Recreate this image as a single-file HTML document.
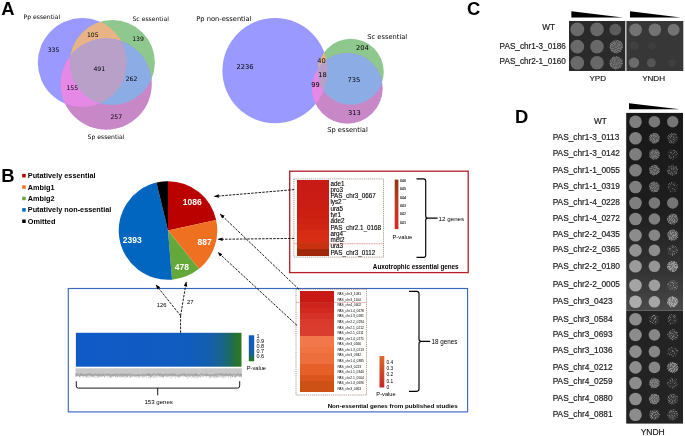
<!DOCTYPE html><html><head><meta charset="utf-8"><title>Figure</title><style>
html,body{margin:0;padding:0;background:#fff;}body{width:685px;height:436px;overflow:hidden;}svg{display:block;will-change:transform}
text{font-family:"Liberation Sans",Arial,sans-serif;fill:#000}
.dv{font-family:"DejaVu Sans","Liberation Sans",sans-serif}
.b{font-weight:bold}
.lb{fill:#1a1a1a;stroke:#1a1a1a;stroke-width:0.18px}
.pl{font-size:18.4px;font-weight:bold}
.da{stroke:#000;stroke-width:0.9;stroke-dasharray:2.5 1.2;fill:none}
</style></head><body>
<svg width="685" height="436" viewBox="0 0 685 436">
<defs>
<marker id="ah" markerWidth="7" markerHeight="6" refX="4.2" refY="3" orient="auto" markerUnits="userSpaceOnUse"><path d="M0,1.2 L5,3 L0,4.8 Z" fill="#000"/></marker>
<linearGradient id="gblue" x1="0" x2="1" y1="0" y2="0"><stop offset="0" stop-color="#105ac8"/><stop offset="0.69" stop-color="#105cbe"/><stop offset="0.81" stop-color="#145faa"/><stop offset="0.88" stop-color="#19648c"/><stop offset="0.93" stop-color="#1e6964"/><stop offset="0.97" stop-color="#287332"/><stop offset="1" stop-color="#2d781e"/></linearGradient>
<linearGradient id="gcb3" x1="0" x2="0" y1="0" y2="1"><stop offset="0" stop-color="#105ac8"/><stop offset="0.5" stop-color="#125eb4"/><stop offset="0.72" stop-color="#19648c"/><stop offset="0.88" stop-color="#246e46"/><stop offset="1" stop-color="#2d781e"/></linearGradient>
<linearGradient id="gcb1" x1="0" x2="0" y1="0" y2="1"><stop offset="0" stop-color="#8e3a12"/><stop offset="0.5" stop-color="#c03a20"/><stop offset="1" stop-color="#d82828"/></linearGradient>
<linearGradient id="gcb2" x1="0" x2="0" y1="0" y2="1"><stop offset="0" stop-color="#dc6a28"/><stop offset="0.5" stop-color="#d04a26"/><stop offset="1" stop-color="#c82424"/></linearGradient>
<filter id="spkD" x="-20%" y="-20%" width="140%" height="140%"><feTurbulence type="fractalNoise" baseFrequency="0.95" numOctaves="2" seed="3" result="n"/><feColorMatrix in="n" type="matrix" values="0 0 0 0 1  0 0 0 0 1  0 0 0 0 1  0 0 0 7 -3.08" result="m"/><feComposite in="SourceGraphic" in2="m" operator="in"/><feGaussianBlur stdDeviation="0.3"/></filter>
<filter id="spkM" x="-20%" y="-20%" width="140%" height="140%"><feTurbulence type="fractalNoise" baseFrequency="0.95" numOctaves="2" seed="5" result="n"/><feColorMatrix in="n" type="matrix" values="0 0 0 0 1  0 0 0 0 1  0 0 0 0 1  0 0 0 7 -3.5" result="m"/><feComposite in="SourceGraphic" in2="m" operator="in"/><feGaussianBlur stdDeviation="0.3"/></filter>
<filter id="spkS" x="-20%" y="-20%" width="140%" height="140%"><feTurbulence type="fractalNoise" baseFrequency="0.95" numOctaves="2" seed="8" result="n"/><feColorMatrix in="n" type="matrix" values="0 0 0 0 1  0 0 0 0 1  0 0 0 0 1  0 0 0 7 -3.885" result="m"/><feComposite in="SourceGraphic" in2="m" operator="in"/><feGaussianBlur stdDeviation="0.3"/></filter>
<filter id="bl"><feGaussianBlur stdDeviation="0.45"/></filter>
</defs>
<text class="pl" x="1.2" y="14.5">A</text>
<defs>
<clipPath id="v42445a"><circle cx="82.3" cy="62.6" r="44.5"/></clipPath>
<clipPath id="v42445b"><circle cx="112.4" cy="62.5" r="42.5"/></clipPath>
<clipPath id="v42445c"><circle cx="106.2" cy="84.1" r="45.6"/></clipPath>
</defs>
<circle cx="82.3" cy="62.6" r="44.5" fill="#9999ff"/>
<circle cx="112.4" cy="62.5" r="42.5" fill="#8fc88f"/>
<circle cx="106.2" cy="84.1" r="45.6" fill="#c888c8"/>
<g clip-path="url(#v42445a)"><circle cx="112.4" cy="62.5" r="42.5" fill="#e8b486"/></g>
<g clip-path="url(#v42445a)"><circle cx="106.2" cy="84.1" r="45.6" fill="#e688e6"/></g>
<g clip-path="url(#v42445b)"><circle cx="106.2" cy="84.1" r="45.6" fill="#8cace6"/></g>
<g clip-path="url(#v42445a)"><g clip-path="url(#v42445b)"><circle cx="106.2" cy="84.1" r="45.6" fill="#b8a0c8"/></g></g>
<text class="dv" font-size="6.1" x="23.5" y="18.7" text-anchor="start">Pp essential</text>
<text class="dv" font-size="6.1" x="132.5" y="20.7" text-anchor="start">Sc essential</text>
<text class="dv" font-size="6.1" x="106" y="138.8" text-anchor="middle">Sp essential</text>
<text class="dv" font-size="6.1" x="53.5" y="52" text-anchor="middle">335</text>
<text class="dv" font-size="6.1" x="92.8" y="37" text-anchor="middle">105</text>
<text class="dv" font-size="6.1" x="138" y="41.3" text-anchor="middle">139</text>
<text class="dv" font-size="6.1" x="99.3" y="71" text-anchor="middle">491</text>
<text class="dv" font-size="6.1" x="131.5" y="80.7" text-anchor="middle">262</text>
<text class="dv" font-size="6.1" x="72.3" y="89.5" text-anchor="middle">155</text>
<text class="dv" font-size="6.1" x="116.3" y="118.7" text-anchor="middle">257</text>
<defs>
<clipPath id="v19772a"><circle cx="275" cy="70.6" r="52.6"/></clipPath>
<clipPath id="v19772b"><circle cx="350.8" cy="71.8" r="33"/></clipPath>
<clipPath id="v19772c"><circle cx="347.3" cy="88.3" r="35.4"/></clipPath>
</defs>
<circle cx="275" cy="70.6" r="52.6" fill="#9999ff"/>
<circle cx="350.8" cy="71.8" r="33" fill="#8fc88f"/>
<circle cx="347.3" cy="88.3" r="35.4" fill="#c888c8"/>
<g clip-path="url(#v19772a)"><circle cx="350.8" cy="71.8" r="33" fill="#e8b486"/></g>
<g clip-path="url(#v19772a)"><circle cx="347.3" cy="88.3" r="35.4" fill="#e688e6"/></g>
<g clip-path="url(#v19772b)"><circle cx="347.3" cy="88.3" r="35.4" fill="#8cace6"/></g>
<g clip-path="url(#v19772a)"><g clip-path="url(#v19772b)"><circle cx="347.3" cy="88.3" r="35.4" fill="#b8a0c8"/></g></g>
<text class="dv" font-size="6.7" x="196.3" y="20.7" text-anchor="start">Pp non-essential</text>
<text class="dv" font-size="6.7" x="367.3" y="39" text-anchor="start">Sc essential</text>
<text class="dv" font-size="6.7" x="347.5" y="131.6" text-anchor="middle">Sp essential</text>
<text class="dv" font-size="6.7" x="245" y="69.2" text-anchor="middle">2236</text>
<text class="dv" font-size="6.7" x="321.5" y="62.5" text-anchor="middle">40</text>
<text class="dv" font-size="6.7" x="362.5" y="49.5" text-anchor="middle">204</text>
<text class="dv" font-size="6.7" x="322.5" y="76.7" text-anchor="middle">18</text>
<text class="dv" font-size="6.7" x="354" y="81.7" text-anchor="middle">735</text>
<text class="dv" font-size="6.7" x="315.5" y="86.7" text-anchor="middle">99</text>
<text class="dv" font-size="6.7" x="354.5" y="115" text-anchor="middle">313</text>
<text class="pl" x="1.3" y="181.7">B</text>
<rect x="22.2" y="173.9" width="3.5" height="3.5" fill="#bb0000"/>
<text class="b" font-size="7.3" x="27.8" y="178.1">Putatively essential</text>
<rect x="22.2" y="185.3" width="3.5" height="3.5" fill="#f07022"/>
<text class="b" font-size="7.3" x="27.8" y="189.5">Ambig1</text>
<rect x="22.2" y="196.7" width="3.5" height="3.5" fill="#64a83a"/>
<text class="b" font-size="7.3" x="27.8" y="200.9">Ambig2</text>
<rect x="22.2" y="208.1" width="3.5" height="3.5" fill="#0066bf"/>
<text class="b" font-size="7.3" x="27.8" y="212.3">Putatively non-essential</text>
<rect x="22.2" y="219.5" width="3.5" height="3.5" fill="#000"/>
<text class="b" font-size="7.3" x="27.8" y="223.7">Omitted</text>
<path d="M168,230.5 L168.00,181.20 A49.3,49.3 0 0 1 216.16,219.97 Z" fill="#bb0000"/>
<path d="M168,230.5 L216.16,219.97 A49.3,49.3 0 0 1 198.96,268.87 Z" fill="#f07022"/>
<path d="M168,230.5 L198.96,268.87 A49.3,49.3 0 0 1 172.06,279.63 Z" fill="#64a83a"/>
<path d="M168,230.5 L172.06,279.63 A49.3,49.3 0 0 1 156.42,182.58 Z" fill="#0066bf"/>
<path d="M168,230.5 L156.42,182.58 A49.3,49.3 0 0 1 168.00,181.20 Z" fill="#000"/>
<text class="b" font-size="8.5" x="192.2" y="205" text-anchor="middle" style="fill:#fff">1086</text>
<text class="b" font-size="8.5" x="204.6" y="244.8" text-anchor="middle" style="fill:#fff">887</text>
<text class="b" font-size="8.5" x="181.8" y="270.2" text-anchor="middle" style="fill:#fff">478</text>
<text class="b" font-size="8.5" x="132.3" y="242.6" text-anchor="middle" style="fill:#fff">2393</text>
<rect x="289.7" y="171.2" width="178.5" height="101.4" fill="none" stroke="#b51f2a" stroke-width="1.3"/>
<rect x="68.3" y="288.5" width="399.3" height="123.4" fill="#fff" stroke="#3a68c0" stroke-width="1.15"/>
<rect x="296.8" y="180.10" width="31.7" height="6.87" fill="#c81a16" shape-rendering="crispEdges"/>
<text font-size="6.3" x="330.4" y="185.60" stroke="#000" stroke-width="0.12">ade1</text>
<rect x="296.8" y="186.38" width="31.7" height="6.87" fill="#c91b15" shape-rendering="crispEdges"/>
<text font-size="6.3" x="330.4" y="191.88" stroke="#000" stroke-width="0.12">pro3</text>
<rect x="296.8" y="192.65" width="31.7" height="6.87" fill="#ca1c14" shape-rendering="crispEdges"/>
<text font-size="6.3" x="330.4" y="198.15" stroke="#000" stroke-width="0.12">PAS_chr3_0667</text>
<rect x="296.8" y="198.92" width="31.7" height="6.87" fill="#ca1d13" shape-rendering="crispEdges"/>
<text font-size="6.3" x="330.4" y="204.42" stroke="#000" stroke-width="0.12">lys2</text>
<rect x="296.8" y="205.20" width="31.7" height="6.87" fill="#cb1e12" shape-rendering="crispEdges"/>
<text font-size="6.3" x="330.4" y="210.70" stroke="#000" stroke-width="0.12">ura5</text>
<rect x="296.8" y="211.47" width="31.7" height="6.87" fill="#cc1f12" shape-rendering="crispEdges"/>
<text font-size="6.3" x="330.4" y="216.97" stroke="#000" stroke-width="0.12">tyr1</text>
<rect x="296.8" y="217.75" width="31.7" height="6.87" fill="#cd2112" shape-rendering="crispEdges"/>
<text font-size="6.3" x="330.4" y="223.25" stroke="#000" stroke-width="0.12">ade2</text>
<rect x="296.8" y="224.02" width="31.7" height="6.87" fill="#d02512" shape-rendering="crispEdges"/>
<text font-size="6.3" x="330.4" y="229.52" stroke="#000" stroke-width="0.12">PAS_chr2.1_0168</text>
<rect x="296.8" y="230.30" width="31.7" height="6.87" fill="#d62c14" shape-rendering="crispEdges"/>
<text font-size="6.3" x="330.4" y="235.80" stroke="#000" stroke-width="0.12">arg4</text>
<rect x="296.8" y="236.57" width="31.7" height="6.87" fill="#d72e14" shape-rendering="crispEdges"/>
<text font-size="6.3" x="330.4" y="242.07" stroke="#000" stroke-width="0.12">met2</text>
<rect x="296.8" y="242.85" width="31.7" height="6.87" fill="#c8320f" shape-rendering="crispEdges"/>
<text font-size="6.3" x="330.4" y="248.35" stroke="#000" stroke-width="0.12">ura3</text>
<rect x="296.8" y="249.12" width="31.7" height="6.87" fill="#a0260a" shape-rendering="crispEdges"/>
<text font-size="6.3" x="330.4" y="254.62" stroke="#000" stroke-width="0.12">PAS_chr3_0112</text>
<rect x="293.9" y="178.9" width="89.6" height="78.2" fill="none" stroke="#6a4a3a" stroke-width="0.6" stroke-dasharray="1 0.9"/>
<line x1="294" x2="383.5" y1="243.7" y2="243.7" stroke="#c04030" stroke-width="0.5" stroke-dasharray="1.2 0.5"/>
<rect x="394.7" y="179.6" width="3.7" height="49.5" fill="url(#gcb1)"/>
<text font-size="3" x="400" y="181.90" stroke="#000" stroke-width="0.1">0.06</text>
<text font-size="3" x="400" y="190.26" stroke="#000" stroke-width="0.1">0.05</text>
<text font-size="3" x="400" y="198.62" stroke="#000" stroke-width="0.1">0.04</text>
<text font-size="3" x="400" y="206.98" stroke="#000" stroke-width="0.1">0.03</text>
<text font-size="3" x="400" y="215.34" stroke="#000" stroke-width="0.1">0.02</text>
<text font-size="3" x="400" y="223.70" stroke="#000" stroke-width="0.1">0.01</text>
<text font-size="5.8" x="402.3" y="239.1" text-anchor="middle">P-value</text>
<path d="M416.5,178.9 L423.5,178.9 Q425.7,178.9 425.7,181.1 L425.7,215.95 Q425.7,218.15 427.9,218.15 L437.6,218.15 M427.9,218.15 Q425.7,218.15 425.7,220.35 L425.7,255.2 Q425.7,257.4 423.5,257.4 L416.5,257.4" fill="none" stroke="#000" stroke-width="1.15"/>
<text font-size="6.25" x="438.5" y="220.6">12 genes</text>
<text class="b" font-size="6.3" x="458.6" y="269" text-anchor="end">Auxotrophic essential genes</text>
<rect x="300.2" y="291.10" width="34.1" height="6.19" fill="#c81914" shape-rendering="crispEdges"/>
<text font-size="3.3" x="337.4" y="295.00">PAS_chr3_1081</text>
<rect x="300.2" y="296.69" width="34.1" height="6.19" fill="#c81914" shape-rendering="crispEdges"/>
<text font-size="3.3" x="337.4" y="300.59">PAS_chr3_1104</text>
<rect x="300.2" y="302.28" width="34.1" height="6.19" fill="#cd231e" shape-rendering="crispEdges"/>
<text font-size="3.3" x="337.4" y="306.18">PAS_chr4_0402</text>
<rect x="300.2" y="307.87" width="34.1" height="6.19" fill="#d2281e" shape-rendering="crispEdges"/>
<text font-size="3.3" x="337.4" y="311.77">PAS_chr1.4_0678</text>
<rect x="300.2" y="313.46" width="34.1" height="6.19" fill="#d73228" shape-rendering="crispEdges"/>
<text font-size="3.3" x="337.4" y="317.36">PAS_chr1.3_0281</text>
<rect x="300.2" y="319.04" width="34.1" height="6.19" fill="#da3a2c" shape-rendering="crispEdges"/>
<text font-size="3.3" x="337.4" y="322.94">PAS_chr2.2_0294</text>
<rect x="300.2" y="324.63" width="34.1" height="6.19" fill="#da3c2d" shape-rendering="crispEdges"/>
<text font-size="3.3" x="337.4" y="328.53">PAS_chr2.1_0212</text>
<rect x="300.2" y="330.22" width="34.1" height="6.19" fill="#da3c2d" shape-rendering="crispEdges"/>
<text font-size="3.3" x="337.4" y="334.12">PAS_chr2.1_0211</text>
<rect x="300.2" y="335.81" width="34.1" height="6.19" fill="#f2784b" shape-rendering="crispEdges"/>
<text font-size="3.3" x="337.4" y="339.71">PAS_chr1.4_0271</text>
<rect x="300.2" y="341.40" width="34.1" height="6.19" fill="#f2784b" shape-rendering="crispEdges"/>
<text font-size="3.3" x="337.4" y="345.30">PAS_chr3_0566</text>
<rect x="300.2" y="346.99" width="34.1" height="6.19" fill="#f07341" shape-rendering="crispEdges"/>
<text font-size="3.3" x="337.4" y="350.89">PAS_chr1.3_0213</text>
<rect x="300.2" y="352.58" width="34.1" height="6.19" fill="#eb6e3c" shape-rendering="crispEdges"/>
<text font-size="3.3" x="337.4" y="356.48">PAS_chr3_0942</text>
<rect x="300.2" y="358.17" width="34.1" height="6.19" fill="#eb6e3c" shape-rendering="crispEdges"/>
<text font-size="3.3" x="337.4" y="362.07">PAS_chr1.4_0385</text>
<rect x="300.2" y="363.76" width="34.1" height="6.19" fill="#e65f28" shape-rendering="crispEdges"/>
<text font-size="3.3" x="337.4" y="367.66">PAS_chr3_0223</text>
<rect x="300.2" y="369.34" width="34.1" height="6.19" fill="#e65f28" shape-rendering="crispEdges"/>
<text font-size="3.3" x="337.4" y="373.24">PAS_chr1.1_0340</text>
<rect x="300.2" y="374.93" width="34.1" height="6.19" fill="#dc551e" shape-rendering="crispEdges"/>
<text font-size="3.3" x="337.4" y="378.83">PAS_chr2.1_0504</text>
<rect x="300.2" y="380.52" width="34.1" height="6.19" fill="#cd5014" shape-rendering="crispEdges"/>
<text font-size="3.3" x="337.4" y="384.42">PAS_chr1.4_0696</text>
<rect x="300.2" y="386.11" width="34.1" height="6.19" fill="#cd5014" shape-rendering="crispEdges"/>
<text font-size="3.3" x="337.4" y="390.01">PAS_chr3_0363</text>
<rect x="296" y="289.2" width="70.5" height="105.8" fill="none" stroke="#7a4a3a" stroke-width="0.6" stroke-dasharray="1 0.9"/>
<line x1="296" x2="366.5" y1="302.4" y2="302.4" stroke="#c04030" stroke-width="0.5" stroke-dasharray="1.2 0.5"/>
<rect x="379.5" y="356" width="4.8" height="31.5" fill="url(#gcb2)"/>
<text font-size="4.8" x="386.6" y="363.5">0.4</text>
<text font-size="4.8" x="386.6" y="370">0.3</text>
<text font-size="4.8" x="386.6" y="376.4">0.2</text>
<text font-size="4.8" x="386.6" y="382.7">0.1</text>
<text font-size="4.8" x="386.6" y="388.6">0</text>
<text font-size="5.7" x="386" y="395.9" text-anchor="middle">P-value</text>
<path d="M409,291.3 L416.8,291.3 Q419,291.3 419,293.5 L419,339.1 Q419,341.3 421.2,341.3 L430.2,341.3 M421.2,341.3 Q419,341.3 419,343.5 L419,389.1 Q419,391.3 416.8,391.3 L409,391.3" fill="none" stroke="#000" stroke-width="1.15"/>
<text font-size="6.3" x="431.4" y="343.5">18 genes</text>
<text class="b" font-size="6.2" x="457.6" y="408" text-anchor="end">Non-essential genes from published studies</text>
<rect x="75.9" y="332.8" width="165.6" height="33.9" fill="url(#gblue)"/>
<rect x="75.9" y="368.4" width="165.6" height="7.2" fill="#d4d4d4"/>
<path d="M75.90,368.4 v8.58 M76.82,368.4 v7.68 M77.74,368.4 v8.04 M78.66,368.4 v8.12 M79.58,368.4 v9.10 M80.50,368.4 v9.15 M81.42,368.4 v7.55 M82.34,368.4 v7.80 M83.26,368.4 v9.11 M84.18,368.4 v7.71 M85.10,368.4 v7.69 M86.02,368.4 v9.26 M86.94,368.4 v9.73 M87.86,368.4 v8.48 M88.78,368.4 v9.74 M89.70,368.4 v8.89 M90.62,368.4 v9.23 M91.54,368.4 v7.89 M92.46,368.4 v8.67 M93.38,368.4 v9.07 M94.30,368.4 v8.42 M95.22,368.4 v9.79 M96.14,368.4 v8.21 M97.06,368.4 v9.59 M97.98,368.4 v9.44 M98.90,368.4 v10.06 M99.82,368.4 v8.47 M100.74,368.4 v8.05 M101.66,368.4 v8.59 M102.58,368.4 v7.90 M103.50,368.4 v7.81 M104.42,368.4 v9.52 M105.34,368.4 v8.54 M106.26,368.4 v7.85 M107.18,368.4 v9.89 M108.10,368.4 v7.84 M109.02,368.4 v8.36 M109.94,368.4 v10.25 M110.86,368.4 v8.77 M111.78,368.4 v9.44 M112.70,368.4 v8.58 M113.62,368.4 v7.97 M114.54,368.4 v7.73 M115.46,368.4 v9.10 M116.38,368.4 v9.24 M117.30,368.4 v8.53 M118.22,368.4 v9.21 M119.14,368.4 v8.86 M120.06,368.4 v8.34 M120.98,368.4 v9.62 M121.90,368.4 v8.95 M122.82,368.4 v8.49 M123.74,368.4 v9.67 M124.66,368.4 v7.67 M125.58,368.4 v10.12 M126.50,368.4 v9.02 M127.42,368.4 v9.24 M128.34,368.4 v7.99 M129.26,368.4 v9.81 M130.18,368.4 v9.59 M131.10,368.4 v8.82 M132.02,368.4 v8.43 M132.94,368.4 v8.45 M133.86,368.4 v7.71 M134.78,368.4 v8.85 M135.70,368.4 v7.41 M136.62,368.4 v9.33 M137.54,368.4 v8.57 M138.46,368.4 v10.07 M139.38,368.4 v7.66 M140.30,368.4 v8.79 M141.22,368.4 v7.88 M142.14,368.4 v9.17 M143.06,368.4 v9.23 M143.98,368.4 v10.21 M144.90,368.4 v7.46 M145.82,368.4 v7.71 M146.74,368.4 v10.36 M147.66,368.4 v7.48 M148.58,368.4 v9.69 M149.50,368.4 v9.90 M150.42,368.4 v10.09 M151.34,368.4 v8.95 M152.26,368.4 v7.79 M153.18,368.4 v10.02 M154.10,368.4 v9.73 M155.02,368.4 v9.26 M155.94,368.4 v9.45 M156.86,368.4 v9.73 M157.78,368.4 v7.97 M158.70,368.4 v8.76 M159.62,368.4 v7.59 M160.54,368.4 v9.22 M161.46,368.4 v8.92 M162.38,368.4 v8.14 M163.30,368.4 v10.18 M164.22,368.4 v8.01 M165.14,368.4 v8.58 M166.06,368.4 v8.69 M166.98,368.4 v7.77 M167.90,368.4 v9.33 M168.82,368.4 v7.81 M169.74,368.4 v7.68 M170.66,368.4 v9.40 M171.58,368.4 v10.38 M172.50,368.4 v8.47 M173.42,368.4 v8.41 M174.34,368.4 v8.55 M175.26,368.4 v10.28 M176.18,368.4 v8.09 M177.10,368.4 v8.22 M178.02,368.4 v9.67 M178.94,368.4 v9.43 M179.86,368.4 v9.01 M180.78,368.4 v8.38 M181.70,368.4 v7.95 M182.62,368.4 v7.45 M183.54,368.4 v9.22 M184.46,368.4 v7.77 M185.38,368.4 v8.65 M186.30,368.4 v7.53 M187.22,368.4 v10.31 M188.14,368.4 v10.20 M189.06,368.4 v8.02 M189.98,368.4 v8.21 M190.90,368.4 v7.51 M191.82,368.4 v10.33 M192.74,368.4 v8.74 M193.66,368.4 v9.37 M194.58,368.4 v10.31 M195.50,368.4 v8.09 M196.42,368.4 v9.59 M197.34,368.4 v10.35 M198.26,368.4 v9.28 M199.18,368.4 v7.57 M200.10,368.4 v8.92 M201.02,368.4 v9.48 M201.94,368.4 v8.21 M202.86,368.4 v8.39 M203.78,368.4 v7.50 M204.70,368.4 v7.95 M205.62,368.4 v8.24 M206.54,368.4 v9.73 M207.46,368.4 v7.83 M208.38,368.4 v8.30 M209.30,368.4 v10.27 M210.22,368.4 v10.08 M211.14,368.4 v9.69 M212.06,368.4 v8.25 M212.98,368.4 v9.87 M213.90,368.4 v8.69 M214.82,368.4 v10.13 M215.74,368.4 v9.84 M216.66,368.4 v9.79 M217.58,368.4 v9.33 M218.50,368.4 v9.31 M219.42,368.4 v8.75 M220.34,368.4 v8.99 M221.26,368.4 v8.77 M222.18,368.4 v10.09 M223.10,368.4 v9.64 M224.02,368.4 v9.94 M224.94,368.4 v8.09 M225.86,368.4 v9.94 M226.78,368.4 v8.26 M227.70,368.4 v7.99 M228.62,368.4 v9.35 M229.54,368.4 v7.80 M230.46,368.4 v10.32 M231.38,368.4 v8.87 M232.30,368.4 v8.80 M233.22,368.4 v9.05 M234.14,368.4 v8.82 M235.06,368.4 v8.92 M235.98,368.4 v8.56 M236.90,368.4 v7.62 M237.82,368.4 v8.19 M238.74,368.4 v9.30 M239.66,368.4 v8.50 M240.58,368.4 v8.58 M241.50,368.4 v9.44" stroke="#bdbdbd" stroke-width="0.5" fill="none"/>
<path d="M75.90,373.27 v2.75 M76.82,374.02 v2.87 M77.74,373.32 v2.19 M78.66,373.97 v1.68 M79.58,374.53 v2.48 M80.50,373.29 v2.42 M81.42,373.51 v2.38 M82.34,373.79 v2.36 M83.26,373.98 v2.55 M84.18,374.00 v1.86 M85.10,374.20 v2.39 M86.02,373.89 v2.34 M86.94,373.85 v2.89 M87.86,373.55 v1.85 M88.78,373.31 v2.02 M89.70,373.68 v2.23 M90.62,373.30 v2.32 M91.54,373.68 v2.91 M92.46,374.55 v1.71 M93.38,374.30 v2.75 M94.30,373.69 v2.30 M95.22,373.30 v1.73 M96.14,374.18 v1.69 M97.06,373.63 v2.41 M97.98,373.82 v2.60 M98.90,373.69 v2.92 M99.82,374.06 v2.29 M100.74,373.60 v2.63 M101.66,374.48 v2.30 M102.58,373.76 v1.99 M103.50,373.80 v2.37 M104.42,374.58 v2.56 M105.34,373.52 v1.72 M106.26,374.12 v1.62 M107.18,373.46 v1.99 M108.10,373.95 v2.45 M109.02,373.38 v2.80 M109.94,374.12 v2.64 M110.86,374.42 v2.93 M111.78,373.98 v2.16 M112.70,373.87 v2.16 M113.62,374.58 v2.22 M114.54,374.04 v1.74 M115.46,373.95 v2.93 M116.38,373.30 v1.89 M117.30,374.09 v2.94 M118.22,373.86 v1.76 M119.14,374.57 v2.27 M120.06,373.40 v2.65 M120.98,373.87 v2.57 M121.90,373.49 v2.93 M122.82,374.17 v2.88 M123.74,373.62 v2.50 M124.66,374.38 v2.33 M125.58,373.70 v1.91 M126.50,373.90 v2.49 M127.42,374.30 v2.66 M128.34,373.54 v2.16 M129.26,373.48 v2.29 M130.18,374.59 v2.71 M131.10,373.47 v2.45 M132.02,374.33 v2.61 M132.94,374.56 v1.71 M133.86,373.86 v2.07 M134.78,374.58 v2.45 M135.70,374.47 v2.08 M136.62,374.37 v1.77 M137.54,374.20 v1.88 M138.46,373.81 v2.49 M139.38,374.52 v2.61 M140.30,374.24 v1.72 M141.22,374.59 v1.64 M142.14,373.85 v2.52 M143.06,374.03 v2.26 M143.98,373.42 v2.37 M144.90,374.32 v2.62 M145.82,374.25 v1.79 M146.74,373.47 v2.82 M147.66,373.50 v2.30 M148.58,373.66 v2.36 M149.50,373.29 v2.64 M150.42,374.13 v2.74 M151.34,374.36 v2.83 M152.26,373.41 v2.31 M153.18,374.29 v2.45 M154.10,373.41 v1.80 M155.02,373.37 v1.69 M155.94,373.94 v2.28 M156.86,374.44 v1.68 M157.78,373.26 v1.74 M158.70,373.24 v2.85 M159.62,373.66 v2.96 M160.54,373.48 v1.99 M161.46,374.33 v2.31 M162.38,373.93 v2.83 M163.30,374.49 v2.85 M164.22,373.83 v2.18 M165.14,373.64 v2.54 M166.06,373.50 v2.02 M166.98,374.29 v2.92 M167.90,373.71 v1.95 M168.82,373.85 v2.65 M169.74,374.44 v1.83 M170.66,373.51 v2.59 M171.58,373.77 v2.19 M172.50,373.33 v2.11 M173.42,373.84 v2.58 M174.34,373.92 v2.01 M175.26,373.36 v2.89 M176.18,374.43 v1.72 M177.10,374.47 v1.85 M178.02,374.35 v2.79 M178.94,374.52 v2.17 M179.86,373.92 v2.29 M180.78,373.59 v2.72 M181.70,374.45 v1.98 M182.62,373.32 v1.96 M183.54,373.51 v1.97 M184.46,373.22 v2.99 M185.38,374.48 v2.47 M186.30,374.19 v2.91 M187.22,373.57 v1.85 M188.14,374.08 v2.34 M189.06,373.82 v2.54 M189.98,374.33 v2.99 M190.90,373.23 v2.31 M191.82,373.92 v1.94 M192.74,374.12 v2.51 M193.66,373.96 v2.84 M194.58,373.63 v1.90 M195.50,373.48 v2.83 M196.42,373.40 v2.99 M197.34,374.37 v1.62 M198.26,374.43 v2.20 M199.18,374.13 v2.13 M200.10,374.56 v2.44 M201.02,373.26 v1.86 M201.94,373.21 v2.11 M202.86,374.58 v2.05 M203.78,374.44 v1.91 M204.70,373.67 v1.72 M205.62,374.12 v1.95 M206.54,373.33 v2.74 M207.46,374.02 v2.15 M208.38,374.08 v1.72 M209.30,374.39 v1.82 M210.22,374.30 v2.44 M211.14,374.21 v2.29 M212.06,374.07 v1.80 M212.98,374.20 v2.32 M213.90,374.18 v2.31 M214.82,374.25 v2.40 M215.74,373.22 v2.56 M216.66,374.20 v2.94 M217.58,373.32 v1.66 M218.50,374.54 v2.13 M219.42,373.27 v1.63 M220.34,373.54 v1.97 M221.26,373.30 v2.91 M222.18,373.33 v2.34 M223.10,373.86 v2.73 M224.02,373.53 v2.66 M224.94,374.11 v2.24 M225.86,373.31 v2.87 M226.78,373.27 v2.49 M227.70,374.04 v2.06 M228.62,374.17 v2.47 M229.54,373.88 v2.28 M230.46,373.34 v1.90 M231.38,374.19 v2.00 M232.30,374.27 v2.99 M233.22,373.64 v1.72 M234.14,373.61 v1.71 M235.06,374.59 v2.99 M235.98,374.48 v2.90 M236.90,373.33 v2.65 M237.82,373.70 v2.44 M238.74,373.59 v1.76 M239.66,373.90 v2.83 M240.58,373.42 v2.93 M241.50,373.77 v2.62" stroke="#8c8c8c" stroke-width="0.6" fill="none"/>
<path d="M76.3,381.2 L76.3,386 Q76.3,388.1 78.4,388.1 L237.6,388.1 Q239.7,388.1 239.7,386 L239.7,381.2 M157.7,388.1 L157.7,395.3" fill="none" stroke="#000" stroke-width="0.9"/>
<text font-size="6.1" x="158.7" y="404.2" text-anchor="middle">153 genes</text>
<rect x="248.8" y="335.3" width="5.4" height="26" fill="url(#gcb3)"/>
<text font-size="5.5" x="256.4" y="337.5">1</text>
<text font-size="5.5" x="256.4" y="342.8">0.9</text>
<text font-size="5.5" x="256.4" y="347.8">0.8</text>
<text font-size="5.5" x="256.4" y="352.8">0.7</text>
<text font-size="5.5" x="256.4" y="358.4">0.6</text>
<text font-size="5.7" x="256.4" y="369.8" text-anchor="middle">P-value</text>
<path class="da" d="M180.6,332.8 L180.6,315.7"/>
<path class="da" d="M180.6,315.7 L156.2,285.2" marker-end="url(#ah)"/>
<path class="da" d="M180.6,315.7 L186.2,282.2" marker-end="url(#ah)"/>
<text font-size="5.9" x="161.7" y="307" text-anchor="middle">126</text>
<text font-size="5.9" x="190.3" y="304.3" text-anchor="middle">27</text>
<path class="da" d="M294.2,189.6 L214.6,196.4" marker-end="url(#ah)"/>
<path class="da" d="M294.2,238.4 L218.4,239.3" marker-end="url(#ah)"/>
<path class="da" d="M298.8,289.2 L220.4,214.2" marker-end="url(#ah)"/>
<path class="da" d="M297,325.4 L218.2,252.6" marker-end="url(#ah)"/>
<text class="pl" x="466.9" y="14.9">C</text>
<path d="M571.4,11.2 L622.8,17.4 L571.4,17.4 Z" fill="#000"/>
<path d="M630,11.2 L680.8,17.4 L630,17.4 Z" fill="#000"/>
<rect x="569" y="21" width="56.3" height="50" fill="#2a2a2a"/>
<rect x="626.4" y="21" width="56.9" height="50" fill="#373737"/>
<text font-size="8.2" x="548.7" y="30.1" text-anchor="middle" class="lb">WT</text>
<text font-size="8.2" x="565.9" y="48.9" text-anchor="end" class="lb">PAS_chr1-3_0186</text>
<text font-size="8.2" x="565.9" y="64.3" text-anchor="end" class="lb">PAS_chr2-1_0160</text>
<text font-size="8.1" x="597.8" y="81.4" text-anchor="middle" class="lb">YPD</text>
<text font-size="8.1" x="653.6" y="81.4" text-anchor="middle" class="lb">YNDH</text>
<circle cx="577.3" cy="29.4" r="6.9" fill="#6a6a6a" filter="url(#bl)"/>
<circle cx="597" cy="29.4" r="6.8" fill="#686868" filter="url(#bl)"/>
<circle cx="577.3" cy="46.6" r="6.9" fill="#6a6a6a" filter="url(#bl)"/>
<circle cx="597" cy="46.6" r="6.8" fill="#686868" filter="url(#bl)"/>
<circle cx="577.3" cy="62.8" r="6.9" fill="#6a6a6a" filter="url(#bl)"/>
<circle cx="597" cy="62.8" r="6.8" fill="#686868" filter="url(#bl)"/>
<circle cx="615.3" cy="29.6" r="5.9" fill="#5c5c5c" filter="url(#bl)"/>
<circle cx="616.2" cy="46.6" r="6.417" fill="#565656" filter="url(#bl)"/>
<circle cx="616.2" cy="46.6" r="6.9" fill="#727272" filter="url(#spkD)"/>
<circle cx="616.2" cy="62.8" r="6.417" fill="#565656" filter="url(#bl)"/>
<circle cx="616.2" cy="62.8" r="6.9" fill="#727272" filter="url(#spkD)"/>
<circle cx="635.6" cy="29.8" r="6.4" fill="#737373" filter="url(#bl)"/>
<circle cx="654.9" cy="29.8" r="6.3" fill="#737373" filter="url(#bl)"/>
<circle cx="673.6" cy="29.8" r="6" fill="#737373" filter="url(#bl)"/>
<circle cx="634" cy="62.6" r="5.2" fill="#6c6c6c" filter="url(#bl)"/>
<circle cx="651.4" cy="62.8" r="4.5" fill="#545454" filter="url(#bl)"/>
<circle cx="672" cy="63" r="3.5" fill="#404040" filter="url(#bl)"/>
<circle cx="634" cy="45.7" r="4.6" fill="#404040" filter="url(#bl)"/>
<circle cx="652" cy="46" r="3.8" fill="#3d3d3d" filter="url(#bl)"/>
<text class="pl" x="515" y="123">D</text>
<path d="M629,103.2 L679.7,109.2 L629,109.2 Z" fill="#000"/>
<defs><linearGradient id="gD" gradientUnits="userSpaceOnUse" x1="0" x2="0" y1="112.9" y2="310.5"><stop offset="0" stop-color="#181818"/><stop offset="0.49" stop-color="#1e1e1e"/><stop offset="0.735" stop-color="#2e2e2e"/><stop offset="0.91" stop-color="#3e3e3e"/><stop offset="1" stop-color="#4a4a4a"/></linearGradient></defs>
<rect x="626.2" y="112.9" width="56.8" height="197.6" fill="url(#gD)"/>
<rect x="626.2" y="310.5" width="56.8" height="113.1" fill="#232323"/>
<text font-size="8.3" x="600.4" y="123.55" text-anchor="middle" class="lb">WT</text>
<circle cx="635.5" cy="121.7" r="6.3" fill="#7e7e7e" filter="url(#bl)"/>
<circle cx="654.4" cy="121.7" r="5.8" fill="#787878" filter="url(#bl)"/>
<circle cx="672.7" cy="121.7" r="5.7" fill="#747474" filter="url(#bl)"/>
<text font-size="8.3" x="552.7" y="140.25" class="lb">PAS_chr1-3_0113</text>
<circle cx="635.5" cy="138.2" r="6.3" fill="#7e7e7e" filter="url(#bl)"/>
<circle cx="654.4" cy="138.2" r="5.115" fill="#545454" filter="url(#bl)"/>
<circle cx="654.4" cy="138.2" r="5.5" fill="#767676" filter="url(#spkD)"/>
<circle cx="672.7" cy="138.2" r="5.208" fill="#333333" filter="url(#bl)"/>
<circle cx="672.7" cy="138.2" r="5.6" fill="#646464" filter="url(#spkM)"/>
<text font-size="8.3" x="552.7" y="156.35" class="lb">PAS_chr1-3_0142</text>
<circle cx="635.5" cy="154.3" r="6.3" fill="#7e7e7e" filter="url(#bl)"/>
<circle cx="654.4" cy="154.3" r="5.115" fill="#545454" filter="url(#bl)"/>
<circle cx="654.4" cy="154.3" r="5.5" fill="#767676" filter="url(#spkD)"/>
<circle cx="672.7" cy="154.3" r="5.208" fill="#252525" filter="url(#bl)"/>
<circle cx="672.7" cy="154.3" r="5.6" fill="#5e5e5e" filter="url(#spkS)"/>
<text font-size="8.3" x="552.7" y="173.05" class="lb">PAS_chr1-1_0055</text>
<circle cx="635.5" cy="170.2" r="6.3" fill="#7e7e7e" filter="url(#bl)"/>
<circle cx="654.4" cy="170.2" r="5.115" fill="#545454" filter="url(#bl)"/>
<circle cx="654.4" cy="170.2" r="5.5" fill="#767676" filter="url(#spkD)"/>
<circle cx="672.7" cy="170.2" r="5.208" fill="#333333" filter="url(#bl)"/>
<circle cx="672.7" cy="170.2" r="5.6" fill="#646464" filter="url(#spkM)"/>
<text font-size="8.3" x="552.7" y="189.15" class="lb">PAS_chr1-1_0319</text>
<circle cx="635.5" cy="187" r="6.3" fill="#7e7e7e" filter="url(#bl)"/>
<circle cx="654.4" cy="187" r="5.115" fill="#545454" filter="url(#bl)"/>
<circle cx="654.4" cy="187" r="5.5" fill="#767676" filter="url(#spkD)"/>
<circle cx="672.7" cy="187" r="5.208" fill="#252525" filter="url(#bl)"/>
<circle cx="672.7" cy="187" r="5.6" fill="#5e5e5e" filter="url(#spkS)"/>
<text font-size="8.3" x="552.7" y="205.25" class="lb">PAS_chr1-4_0228</text>
<circle cx="635.5" cy="203" r="6.3" fill="#7e7e7e" filter="url(#bl)"/>
<circle cx="654.4" cy="203" r="5.8" fill="#787878" filter="url(#bl)"/>
<circle cx="672.7" cy="203" r="5.7" fill="#747474" filter="url(#bl)"/>
<text font-size="8.3" x="552.7" y="221.35" class="lb">PAS_chr1-4_0272</text>
<circle cx="635.5" cy="219" r="6.3" fill="#848484" filter="url(#bl)"/>
<circle cx="654.4" cy="219" r="5.8" fill="#7e7e7e" filter="url(#bl)"/>
<circle cx="672.7" cy="219" r="5.208" fill="#525252" filter="url(#bl)"/>
<circle cx="672.7" cy="219" r="5.6" fill="#868686" filter="url(#spkD)"/>
<text font-size="8.3" x="552.7" y="236.75" class="lb">PAS_chr2-2_0435</text>
<circle cx="635.5" cy="235.2" r="6.3" fill="#8c8c8c" filter="url(#bl)"/>
<circle cx="654.4" cy="235.2" r="5.8" fill="#868686" filter="url(#bl)"/>
<circle cx="672.7" cy="235.2" r="5.208" fill="#5a5a5a" filter="url(#bl)"/>
<circle cx="672.7" cy="235.2" r="5.6" fill="#8e8e8e" filter="url(#spkD)"/>
<text font-size="8.3" x="552.7" y="252.35" class="lb">PAS_chr2-2_0365</text>
<circle cx="635.5" cy="250.4" r="6.3" fill="#939393" filter="url(#bl)"/>
<circle cx="654.4" cy="250.4" r="5.8" fill="#8d8d8d" filter="url(#bl)"/>
<circle cx="672.7" cy="250.4" r="5.208" fill="#393939" filter="url(#bl)"/>
<circle cx="672.7" cy="250.4" r="5.6" fill="#737373" filter="url(#spkS)"/>
<text font-size="8.3" x="552.7" y="268.55" class="lb">PAS_chr2-2_0180</text>
<circle cx="635.5" cy="266.3" r="6.3" fill="#9b9b9b" filter="url(#bl)"/>
<circle cx="654.4" cy="266.3" r="5.8" fill="#959595" filter="url(#bl)"/>
<circle cx="672.7" cy="266.3" r="5.208" fill="#696969" filter="url(#bl)"/>
<circle cx="672.7" cy="266.3" r="5.6" fill="#9d9d9d" filter="url(#spkD)"/>
<text font-size="8.3" x="552.7" y="286.55" class="lb">PAS_chr2-2_0005</text>
<circle cx="635.5" cy="285.3" r="6.3" fill="#a4a4a4" filter="url(#bl)"/>
<circle cx="654.4" cy="285.3" r="5.8" fill="#9e9e9e" filter="url(#bl)"/>
<circle cx="672.7" cy="285.3" r="5.208" fill="#484848" filter="url(#bl)"/>
<circle cx="672.7" cy="285.3" r="5.6" fill="#848484" filter="url(#spkS)"/>
<text font-size="8.3" x="552.7" y="304.45" class="lb">PAS_chr3_0423</text>
<circle cx="635.5" cy="301.8" r="6.3" fill="#acacac" filter="url(#bl)"/>
<circle cx="654.4" cy="301.8" r="5.8" fill="#a6a6a6" filter="url(#bl)"/>
<circle cx="672.7" cy="301.8" r="5.208" fill="#7a7a7a" filter="url(#bl)"/>
<circle cx="672.7" cy="301.8" r="5.6" fill="#aeaeae" filter="url(#spkD)"/>
<text font-size="8.3" x="552.7" y="322.05" class="lb">PAS_chr3_0584</text>
<circle cx="635.5" cy="319.3" r="6.3" fill="#8c8c8c" filter="url(#bl)"/>
<circle cx="654.4" cy="319.3" r="5.115" fill="#2f2f2f" filter="url(#bl)"/>
<circle cx="654.4" cy="319.3" r="5.5" fill="#848484" filter="url(#spkS)"/>
<circle cx="672.7" cy="319.3" r="5.208" fill="#2d2d2d" filter="url(#bl)"/>
<circle cx="672.7" cy="319.3" r="5.6" fill="#6c6c6c" filter="url(#spkS)"/>
<text font-size="8.3" x="552.7" y="336.95" class="lb">PAS_chr3_0693</text>
<circle cx="635.5" cy="334.9" r="6.3" fill="#8c8c8c" filter="url(#bl)"/>
<circle cx="654.4" cy="334.9" r="5.8" fill="#868686" filter="url(#bl)"/>
<circle cx="672.7" cy="334.9" r="5.208" fill="#3b3b3b" filter="url(#bl)"/>
<circle cx="672.7" cy="334.9" r="5.6" fill="#727272" filter="url(#spkM)"/>
<text font-size="8.3" x="552.7" y="352.65" class="lb">PAS_chr3_1036</text>
<circle cx="635.5" cy="351.6" r="6.3" fill="#8c8c8c" filter="url(#bl)"/>
<circle cx="654.4" cy="351.6" r="5.8" fill="#868686" filter="url(#bl)"/>
<circle cx="672.7" cy="351.6" r="5.208" fill="#2d2d2d" filter="url(#bl)"/>
<circle cx="672.7" cy="351.6" r="5.6" fill="#6c6c6c" filter="url(#spkS)"/>
<text font-size="8.3" x="552.7" y="369.65" class="lb">PAS_chr4_0212</text>
<circle cx="635.5" cy="367.4" r="6.3" fill="#8c8c8c" filter="url(#bl)"/>
<circle cx="654.4" cy="367.4" r="5.8" fill="#868686" filter="url(#bl)"/>
<circle cx="672.7" cy="367.4" r="5.208" fill="#5a5a5a" filter="url(#bl)"/>
<circle cx="672.7" cy="367.4" r="5.6" fill="#8e8e8e" filter="url(#spkD)"/>
<text font-size="8.3" x="552.7" y="384.45" class="lb">PAS_chr4_0259</text>
<circle cx="635.5" cy="383" r="6.3" fill="#8c8c8c" filter="url(#bl)"/>
<circle cx="654.4" cy="383" r="5.115" fill="#626262" filter="url(#bl)"/>
<circle cx="654.4" cy="383" r="5.5" fill="#848484" filter="url(#spkD)"/>
<circle cx="672.7" cy="383" r="5.208" fill="#2d2d2d" filter="url(#bl)"/>
<circle cx="672.7" cy="383" r="5.6" fill="#6c6c6c" filter="url(#spkS)"/>
<text font-size="8.3" x="552.7" y="401.45" class="lb">PAS_chr4_0880</text>
<circle cx="635.5" cy="399" r="6.3" fill="#8c8c8c" filter="url(#bl)"/>
<circle cx="654.4" cy="399" r="5.115" fill="#626262" filter="url(#bl)"/>
<circle cx="654.4" cy="399" r="5.5" fill="#848484" filter="url(#spkD)"/>
<circle cx="672.7" cy="399" r="5.208" fill="#3b3b3b" filter="url(#bl)"/>
<circle cx="672.7" cy="399" r="5.6" fill="#727272" filter="url(#spkM)"/>
<text font-size="8.3" x="552.7" y="416.65" class="lb">PAS_chr4_0881</text>
<circle cx="635.5" cy="414.7" r="6.3" fill="#8c8c8c" filter="url(#bl)"/>
<circle cx="654.4" cy="414.7" r="5.115" fill="#454545" filter="url(#bl)"/>
<circle cx="654.4" cy="414.7" r="5.5" fill="#848484" filter="url(#spkM)"/>
<circle cx="672.7" cy="414.7" r="5.208" fill="#3b3b3b" filter="url(#bl)"/>
<circle cx="672.7" cy="414.7" r="5.6" fill="#727272" filter="url(#spkM)"/>
<text font-size="8.5" x="652.7" y="434.8" text-anchor="middle" class="lb">YNDH</text>
</svg></body></html>
